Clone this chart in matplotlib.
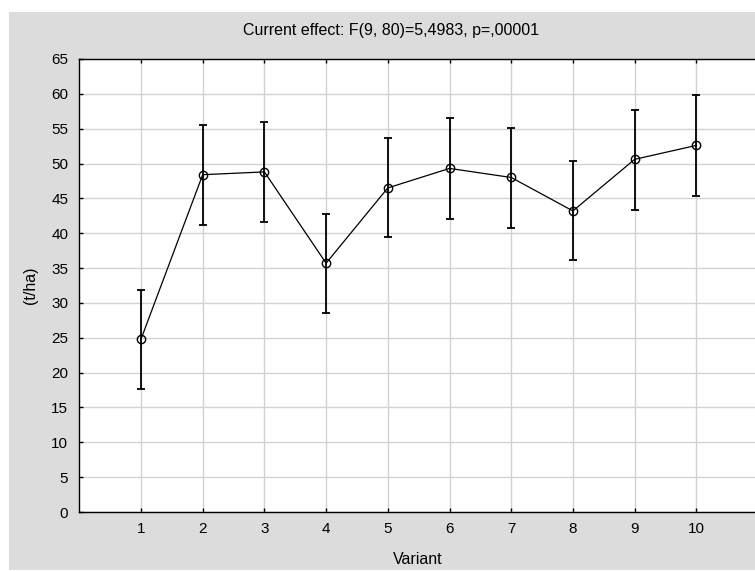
import matplotlib
matplotlib.use("Agg")
import matplotlib.pyplot as plt
from matplotlib.patches import Rectangle

variants = [1, 2, 3, 4, 5, 6, 7, 8, 9, 10]
means = [24.8, 48.4, 48.8, 35.7, 46.5, 49.3, 48.0, 43.2, 50.6, 52.6]
lower = [17.6, 41.2, 41.6, 28.5, 39.4, 42.1, 40.8, 36.1, 43.4, 45.4]
upper = [31.8, 55.5, 56.0, 42.8, 53.6, 56.5, 55.1, 50.3, 57.7, 59.8]
yticks = list(range(0, 70, 5))
title = "Current effect: F(9, 80)=5,4983, p=,00001"

plt.rcParams['font.family'] = ['Liberation Sans', 'DejaVu Sans']

W, H = 755, 571
fig = plt.figure(figsize=(W / 100, H / 100), dpi=100, facecolor='white')
fig.patches.append(Rectangle((9 / W, 1 / H), 1 - 9 / W, (H - 13) / H,
                             transform=fig.transFigure, facecolor='#dcdcdc',
                             edgecolor='none', zorder=-10))

ax = fig.add_axes([79.3 / W, (H - 512) / H, (758 - 79.3) / W, (512 - 59) / H])
ax.set_zorder(5)
ax.set_facecolor('white')

yerr = [[m - l for m, l in zip(means, lower)], [u - m for m, u in zip(means, upper)]]
ax.errorbar(variants, means, yerr=yerr, fmt='none', ecolor='black',
            elinewidth=1.3, capsize=2.7, capthick=1.3, zorder=3)
ax.plot(variants, means, color='black', lw=0.9, marker='o', markersize=6,
        markerfacecolor='none', markeredgecolor='black', markeredgewidth=1.0, zorder=4)

ax.set_xlim(0, 11)
ax.set_ylim(0, 65)
ax.set_xticks(variants)
ax.set_yticks(yticks)
ax.grid(True, color='#d2d2d2', lw=1.0)
ax.set_axisbelow(True)
ax.tick_params(direction='in', length=3, width=1, colors='black', labelsize=11,
               top=True, right=False)
ax.tick_params(axis='y', pad=8)
ax.tick_params(axis='x', pad=7)
for s in ax.spines.values():
    s.set_color('black')
    s.set_linewidth(1.0)

fig.text(391 / W, 1 - 31 / H, title, ha='center', va='center', fontsize=11.5)
fig.text(418 / W, 1 - 560 / H, "Variant", ha='center', va='center', fontsize=11.5)
fig.text(31 / W, 1 - 285 / H, "(t/ha)", ha='center', va='center', rotation=90, fontsize=11.5)

fig.savefig("out.png", dpi=100, facecolor=fig.get_facecolor())
